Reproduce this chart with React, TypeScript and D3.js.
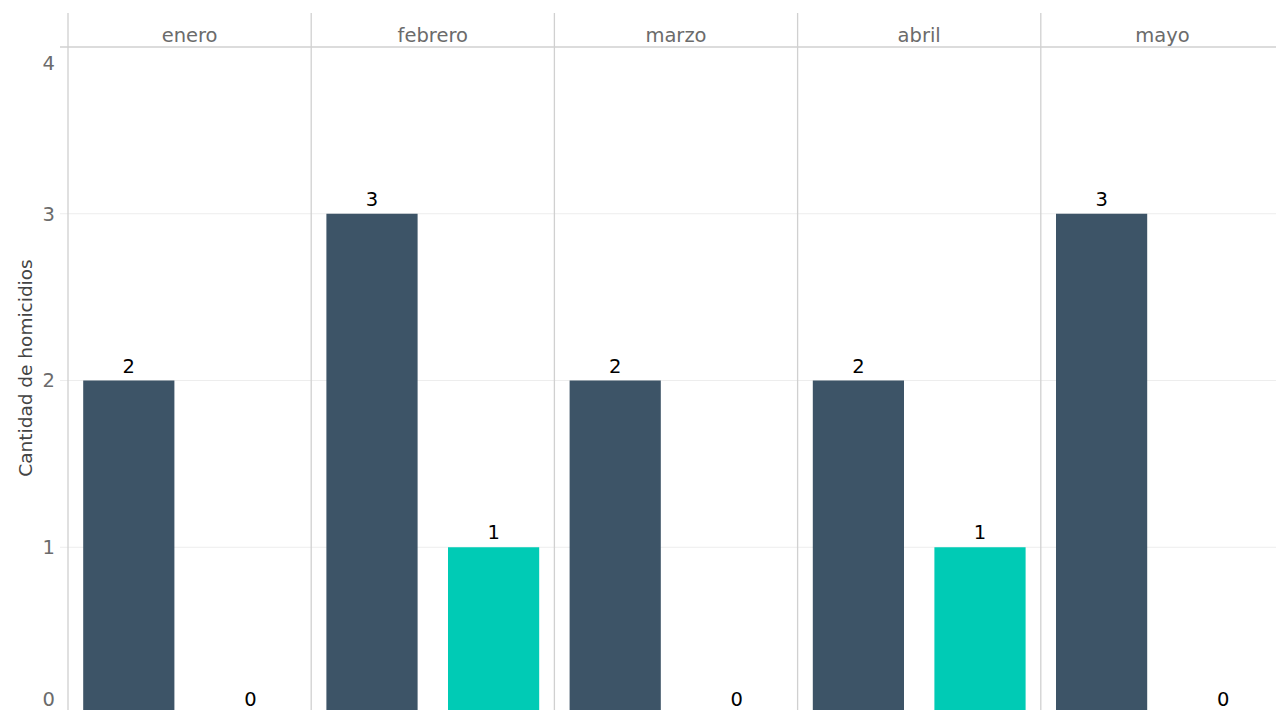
import React from "react";
import * as d3 from "d3";

const months = ["enero", "febrero", "marzo", "abril", "mayo"];
const seriesKeys = ["serie1", "serie2"];
const serie1Values = [2, 3, 2, 2, 3];
const serie2Values = [0, 1, 0, 1, 0];
const yTicks = [0, 1, 2, 3, 4];
const yTitle = "Cantidad de homicidios";
const colors = ["#3d5467", "#00cbb5"];

const W = 1276;
const H = 710;
const FONT = "DejaVu Sans, Verdana, sans-serif";

export default function App() {
  const x = d3.scaleBand<string>().domain(months).range([68, 1284]).padding(0);
  const inner = d3
    .scaleBand<string>()
    .domain(seriesKeys)
    .range([0, x.bandwidth()])
    .paddingInner(0.25)
    .paddingOuter(0.125);
  const y = d3.scaleLinear().domain([0, 4]).range([714, 47]);

  const data = months.map((m, i) => ({
    month: m,
    values: [serie1Values[i], serie2Values[i]],
  }));

  const labelY = (v: number) => Math.min(Math.max(y(v), 63), 699);

  return (
    <svg
      width={W}
      height={H}
      style={{ position: "absolute", left: 0, top: 0, display: "block", background: "#fff" }}
      fontFamily={FONT}
    >
      {/* gridlines */}
      {yTicks.map((t) => (
        <line
          key={"g" + t}
          x1={60}
          x2={W}
          y1={y(t)}
          y2={y(t)}
          stroke={t === 4 ? "#d0d0d0" : "#ededed"}
          strokeWidth={t === 4 ? 1.5 : 1.2}
        />
      ))}
      {/* panel dividers */}
      {months.map((m) => (
        <line
          key={"d" + m}
          x1={x(m)!}
          x2={x(m)!}
          y1={13}
          y2={H}
          stroke="#d0d0d0"
          strokeWidth={1.3}
        />
      ))}
      {/* strip text */}
      {months.map((m) => (
        <text
          key={"s" + m}
          x={x(m)! + x.bandwidth() / 2}
          y={41.5}
          textAnchor="middle"
          fontSize={19.5}
          fill="#6b6b6b"
        >
          {m}
        </text>
      ))}
      {/* y tick labels */}
      {yTicks.map((t) => (
        <text
          key={"t" + t}
          x={55}
          y={labelY(t)}
          dy="0.35em"
          textAnchor="end"
          fontSize={19.5}
          fill="#6b6b6b"
        >
          {t}
        </text>
      ))}
      {/* y title */}
      <text
        transform={`translate(32,368) rotate(-90)`}
        textAnchor="middle"
        fontSize={18.5}
        fill="#444"
      >
        {yTitle}
      </text>
      {/* bars */}
      {data.map((d) => (
        <g key={"b" + d.month} transform={`translate(${x(d.month)},0)`}>
          {d.values.map((v, j) => (
            <g key={j}>
              {v > 0 && (
                <rect
                  x={inner(seriesKeys[j])!}
                  y={y(v)}
                  width={inner.bandwidth()}
                  height={y(0) - y(v)}
                  fill={colors[j]}
                />
              )}
              <text
                x={inner(seriesKeys[j])! + inner.bandwidth() / 2}
                y={y(v) - 8}
                textAnchor="middle"
                fontSize={19.5}
                fill="#000"
              >
                {v}
              </text>
            </g>
          ))}
        </g>
      ))}
    </svg>
  );
}
